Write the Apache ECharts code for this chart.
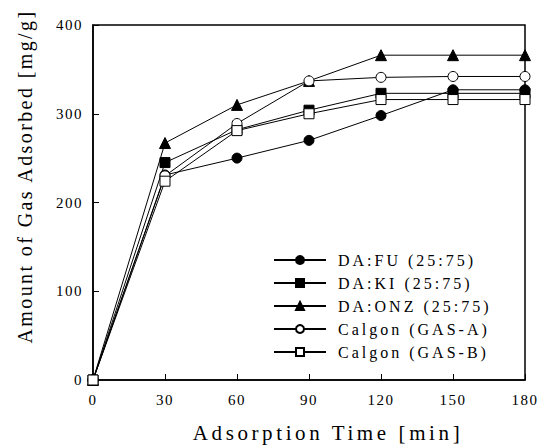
<!DOCTYPE html>
<html>
<head>
<meta charset="utf-8">
<script src="https://cdn.jsdelivr.net/npm/echarts@6/dist/echarts.min.js"></script>
<style>
  html, body { margin: 0; padding: 0; background: #fff; }
  #chart { width: 545px; height: 448px; }
  /* the printed figure uses a Times face with widely spaced lettering */
  #chart text { font-family: 'Liberation Serif', serif !important; letter-spacing: 1.5px; }
  #chart text[style*="16px"] { letter-spacing: 3px; }
  #chart text[style*="20px"] { letter-spacing: 2.4px; }
  #chart text[style*="21px"] { letter-spacing: 3.6px; }
</style>
</head>
<body>
<div id="chart"></div>
<script>
// adsorption time (min)
var times = [0, 30, 60, 90, 120, 150, 180];
// amount of gas adsorbed (mg/g)
var daFu = [0, 231, 250, 270, 298, 327, 327];
var daKi = [0, 245, 282, 304, 323, 323, 323];
var daOnz = [0, 267, 310, 337, 366, 366, 366];
var gasA = [0, 230, 289, 337, 341, 342, 342];
var gasB = [0, 224, 281, 300, 316, 316, 316];

var font = "'Liberation Serif', serif";

function pairs(ys){
    return times.map(function(t, i){ return [t, ys[i]]; });
}
function makeSeries(name, ys, symbol, filled){
    return {
        name: name,
        type: 'line',
        data: pairs(ys),
        symbol: symbol,
        symbolSize: symbol === 'triangle' ? 11 : 10,
        showSymbol: true,
        lineStyle: { color: '#000', width: 1 },
        itemStyle: {
            color: filled ? '#000' : '#fff',
            borderColor: '#000',
            borderWidth: 1
        },
        emphasis: { disabled: true }
    };
}

var chartInstance = echarts.init(document.getElementById('chart'), null, { renderer: 'svg' });
var option = {
    animation: false,
    backgroundColor: '#fff',
    textStyle: { fontFamily: font, color: '#000' },
    grid: {
        left: 93, top: 25, right: 20, bottom: 65,
        show: true,
        borderColor: '#000',
        borderWidth: 1.5
    },
    legend: {
        orient: 'vertical',
        left: 268,
        top: 247,
        itemWidth: 52,
        itemHeight: 10,
        itemGap: 7,
        textStyle: { fontFamily: font, fontSize: 16, color: '#000', padding: [0, 0, 0, 7] },
        data: ['DA:FU (25:75)', 'DA:KI (25:75)', 'DA:ONZ (25:75)', 'Calgon (GAS-A)', 'Calgon (GAS-B)']
    },
    xAxis: {
        type: 'value',
        min: 0, max: 180, interval: 30,
        name: 'Adsorption Time [min]',
        nameLocation: 'middle',
        nameGap: 42,
        nameTextStyle: { fontFamily: font, fontSize: 21, color: '#000', padding: [0, 0, 0, 38] },
        axisLine: { lineStyle: { color: '#000', width: 1.5 } },
        axisTick: { inside: true, length: 6, lineStyle: { color: '#000' } },
        axisLabel: { fontFamily: font, fontSize: 15, color: '#000', margin: 12 },
        splitLine: { show: false }
    },
    yAxis: {
        type: 'value',
        min: 0, max: 400, interval: 100,
        name: 'Amount of Gas Adsorbed [mg/g]',
        nameLocation: 'middle',
        nameGap: 58,
        nameTextStyle: { fontFamily: font, fontSize: 20, color: '#000', padding: [0, 0, 0, 52] },
        axisLine: { lineStyle: { color: '#000', width: 1.5 } },
        axisTick: { inside: true, length: 6, lineStyle: { color: '#000' } },
        axisLabel: { fontFamily: font, fontSize: 15, color: '#000', margin: 10 },
        splitLine: { show: false }
    },
    series: [
        makeSeries('DA:FU (25:75)', daFu, 'circle', true),
        makeSeries('DA:KI (25:75)', daKi, 'rect', true),
        makeSeries('DA:ONZ (25:75)', daOnz, 'triangle', true),
        makeSeries('Calgon (GAS-A)', gasA, 'circle', false),
        makeSeries('Calgon (GAS-B)', gasB, 'rect', false)
    ]
};
chartInstance.setOption(option, true);
</script>
</body>
</html>
